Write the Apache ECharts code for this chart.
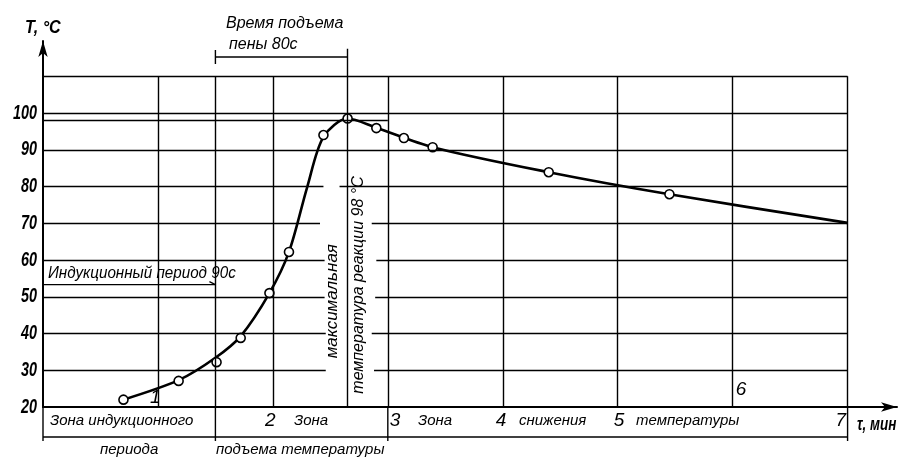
<!DOCTYPE html>
<html><head><meta charset="utf-8">
<script src="https://cdn.jsdelivr.net/npm/echarts@6/dist/echarts.min.js"></script>
<style>html,body{margin:0;padding:0;background:#fff}#c{width:906px;height:459px}</style>
</head><body><div id="c"></div>
<script>
// measured points (time, min / temperature, °C)
const pointTime = [0.70, 1.18, 1.51, 1.72, 1.97, 2.14, 2.44, 2.65, 2.90, 3.14, 3.39, 4.40, 5.45];
const pointTemp = [22, 27.1, 32.2, 38.8, 51, 62.2, 94, 98.5, 95.9, 93.2, 90.7, 83.9, 77.9];
// drawn curve
const curveTime = [0.70, 1.18, 1.50, 1.72, 1.97, 2.14, 2.30, 2.44, 2.65, 2.90, 3.39, 4.40, 5.45, 7.00];
const curveTemp = [22, 27.3, 33.4, 39.3, 51, 62.2, 80, 93.5, 98.5, 96, 90.7, 83.9, 77.9, 70.1];
// axis ticks
const yTicks = [20, 30, 40, 50, 60, 70, 80, 90, 100];
const xTickValues = [1, 2, 3, 4, 5, 6, 7];
const xTickLabels = ['1', '2', '3', '4', '5', '6', '7'];
// grid lines of the drawing
const gridTimes = [1, 1.5, 2, 3, 4, 5, 6, 7];
const fullRows = [90, 100, 110];
const splitRows = [30, 40, 50, 60, 70, 80];
const splitRowGapStart = [2.46, 2.46, 2.45, 2.45, 2.41, 2.44];
const splitRowGapEnd = [2.88, 2.86, 2.89, 2.90, 2.86, 2.58];
const inductionEnd = 1.5;   // 90 s
const peakTime = 2.65;
const peakTemp = 98;
const yTop = 110, yMin = 20, xMaxGrid = 7;

const F = '"Liberation Sans", "DejaVu Sans", sans-serif';

const segs = [];
gridTimes.forEach(t => segs.push([{coord: [t, yMin]}, {coord: [t, yTop]}]));
segs.push([{coord: [peakTime, yMin]}, {coord: [peakTime, 117.5]}]);
fullRows.forEach(v => segs.push([{coord: [0, v]}, {coord: [xMaxGrid, v]}]));
segs.push([{coord: [0, peakTemp]}, {coord: [3, peakTemp]}]);
splitRows.forEach((v, i) => {
  segs.push([{coord: [0, v]}, {coord: [splitRowGapStart[i], v]}]);
  segs.push([{coord: [splitRowGapEnd[i], v]}, {coord: [xMaxGrid, v]}]);
});

const chart = echarts.init(document.getElementById('c'));
chart.setOption({
  animation: false,
  backgroundColor: '#fff',
  grid: {left: 43, right: 9, top: 41, bottom: 52},
  xAxis: {
    type: 'value', min: 0, max: 7.43,
    axisLine: {lineStyle: {color: '#000', width: 2}, symbol: ['none', 'arrow'], symbolSize: [7, 16]},
    axisTick: {show: false}, axisLabel: {show: false}, splitLine: {show: false}
  },
  yAxis: {
    type: 'value', min: 20, max: 119.6, interval: 10,
    axisLine: {show: true, lineStyle: {color: '#000', width: 2}, symbol: ['none', 'arrow'], symbolSize: [7, 16]},
    axisTick: {show: false}, splitLine: {show: false}, axisLabel: {show: false}
  },
  series: [
    {
      type: 'line', data: [], silent: true,
      markLine: {silent: true, symbol: ['none', 'none'], label: {show: false},
        lineStyle: {color: '#000', width: 1.4, type: 'solid'}, emphasis: {disabled: true}, data: segs}
    },
    {
      type: 'line', data: curveTime.map((t, i) => [t, curveTemp[i]]),
      smooth: 0.3, showSymbol: false, silent: true,
      lineStyle: {color: '#000', width: 2.6}, z: 3
    },
    {
      type: 'scatter', data: pointTime.map((t, i) => [t, pointTemp[i]]),
      symbol: 'circle', symbolSize: 9, silent: true,
      itemStyle: {color: '#fff', borderColor: '#000', borderWidth: 1.6, opacity: 1}, z: 4
    }
  ]
});

const P = (t, v) => chart.convertToPixel({gridIndex: 0}, [t, v]);
const x0 = P(0, 20)[0], xI = P(inductionEnd, 20)[0], xPk = P(peakTime, 20)[0], x3 = P(3, 20)[0], x7 = P(7, 20)[0];
const yAx = P(0, 20)[1];
const bandBot = yAx + 30;
const ln = (x1, y1, x2, y2, w) => ({type: 'line', shape: {x1, y1, x2, y2}, style: {stroke: '#000', lineWidth: w || 1.4}, silent: true});
const tx = (text, x, y, size, opt) => Object.assign({type: 'text', x, y, silent: true,
  style: Object.assign({text, fill: '#000', font: 'italic ' + size + 'px ' + F, textVerticalAlign: 'middle', textAlign: 'left'}, (opt || {}).style || {})},
  (opt || {}).el || {});

const g = [];
// y tick labels (narrow drafting style)
yTicks.forEach(v => {
  const p = P(0, v);
  g.push(tx(String(v), 37, p[1], 20, {style: {textAlign: 'right', font: 'italic bold 20px ' + F}, el: {scaleX: 0.72}}));
});
// titles of axes
g.push(tx('T, °C', 25, 28, 19, {style: {font: 'italic bold 19px ' + F}, el: {scaleX: 0.85}}));
g.push(tx('τ, мин', 857, 425, 18, {style: {font: 'italic bold 18px ' + F}, el: {scaleX: 0.75}}));
// foam-rise bracket
g.push(ln(xI, 57, xPk, 57));
g.push(ln(xI, 50, xI, 64));
g.push(tx('Время подъема', 226, 24, 16));
g.push(tx('пены 80с', 229, 45, 16));
// induction period
const yInd = P(0, 53.3)[1];
g.push(ln(x0, yInd, xI, yInd));
g.push(ln(xI - 6, yInd - 3, xI, yInd, 1.2));
g.push(tx('Индукционный период 90с', 48, yInd - 11, 16, {el: {scaleX: 0.95}}));
// rotated texts along peak line
g.push(tx('максимальная', xPk - 15, P(0, 48.8)[1], 17, {style: {textAlign: 'center'}, el: {rotation: Math.PI / 2}}));
g.push(tx('температура реакции 98 °C', xPk + 11, P(0, 53.2)[1], 16, {style: {textAlign: 'center'}, el: {rotation: Math.PI / 2}}));
// band below the axis
g.push(ln(x0, bandBot, x7, bandBot));
[x0, xI, x3, x7].forEach(x => g.push(ln(x, yAx, x, bandBot + 4)));
g.push(tx('Зона индукционного', 50, yAx + 14, 15));
g.push(tx('периода', 100, yAx + 43, 15));
g.push(tx('Зона', 294, yAx + 14, 15));
g.push(tx('подъема температуры', 216, yAx + 43, 15));
g.push(tx('Зона', 418, yAx + 14, 15));
g.push(tx('снижения', 519, yAx + 14, 15));
g.push(tx('температуры', 636, yAx + 14, 15));
// x tick labels
const tickDx = [-8, -8, 2, -7, -4, 3, -12];
const tickDy = [-9, 14, 14, 14, 14, -17, 14];
xTickValues.forEach((t, i) => {
  const p = P(t, 20);
  g.push(tx(xTickLabels[i], p[0] + tickDx[i], p[1] + tickDy[i], 19));
});
chart.setOption({graphic: g});
</script></body></html>
